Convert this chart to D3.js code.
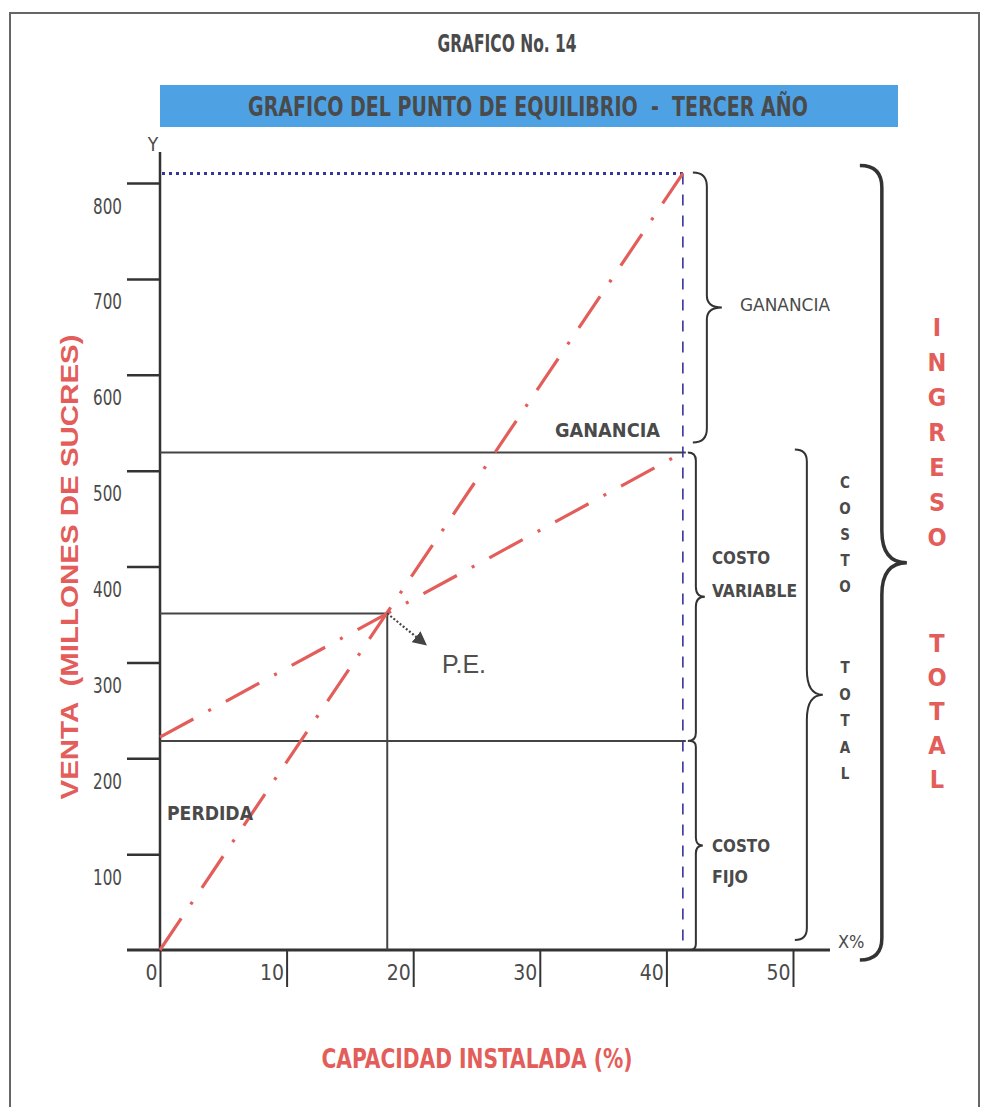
<!DOCTYPE html>
<html>
<head>
<meta charset="utf-8">
<script src="https://cdn.jsdelivr.net/npm/d3@7"></script>
<style>
  body { margin: 0; background: #fff; }
  svg { display: block; }
</style>
</head>
<body>
<div id="chart"></div>
<script>
// valores (punto de equilibrio - tercer año)
const capacidad = [0, 41.3];            // % capacidad instalada
const ingresoTotal = [0, 810];          // millones de sucres
const costoTotal = [222, 519];
const costoFijo = 218;
const puntoEquilibrio = [17.95, 351];
const yTicks = [100, 200, 300, 400, 500, 600, 700, 800];
const xTicks = [0, 10, 20, 30, 40, 50];

const NARROW = "'Liberation Sans Narrow', 'DejaVu Sans Condensed', 'Arial Narrow', sans-serif";
const WIDE = "'Liberation Sans', Arial, sans-serif";
const RED = "#e35d5a";
const GREY = "#4a4a4a";
const INK = "#333";

const width = 981, height = 1107;

const svg = d3.select("#chart").append("svg")
  .attr("width", width)
  .attr("height", height);

// marco
svg.append("rect")
  .attr("x", 10).attr("y", 13)
  .attr("width", 969).attr("height", 1110)
  .attr("fill", "none").attr("stroke", "#666").attr("stroke-width", 2);

const x = d3.scaleLinear().domain([0, 50]).range([160, 793]);
const y = d3.scaleLinear().domain([0, 800]).range([950, 183]);

// titulos
svg.append("text")
  .attr("x", 507).attr("y", 52)
  .attr("text-anchor", "middle")
  .attr("textLength", 139).attr("lengthAdjust", "spacingAndGlyphs")
  .style("font", `bold 24px ${NARROW}`)
  .attr("fill", GREY)
  .text("GRAFICO No. 14");

svg.append("rect")
  .attr("x", 160).attr("y", 85)
  .attr("width", 738).attr("height", 42)
  .attr("fill", "#4ea2e4");

svg.append("text")
  .attr("x", 528).attr("y", 116)
  .attr("text-anchor", "middle")
  .attr("textLength", 560).attr("lengthAdjust", "spacingAndGlyphs")
  .style("font", `bold 26px ${NARROW}`)
  .style("white-space", "pre")
  .attr("fill", GREY)
  .text("GRAFICO DEL PUNTO DE EQUILIBRIO  -  TERCER AÑO");

// ejes
const yAxis = svg.append("g")
  .attr("transform", `translate(${x(0)},0)`)
  .call(d3.axisLeft(y).tickValues(yTicks).tickSize(33).tickPadding(5));
yAxis.select(".domain").remove();
yAxis.selectAll("line").attr("stroke", INK).attr("stroke-width", 2.5);
yAxis.selectAll("text")
  .attr("dy", null).attr("y", 30)
  .attr("textLength", 29).attr("lengthAdjust", "spacingAndGlyphs")
  .style("font", `21px ${NARROW}`).attr("fill", GREY);

const xAxis = svg.append("g")
  .attr("transform", `translate(0,${y(0)})`)
  .call(d3.axisBottom(x).tickValues(xTicks).tickSize(37).tickPadding(0));
xAxis.select(".domain").remove();
xAxis.selectAll("line").attr("stroke", INK).attr("stroke-width", 2);
xAxis.selectAll("text")
  .attr("dy", null).attr("y", 30).attr("x", -3)
  .attr("text-anchor", "end")
  .style("font", `21px ${NARROW}`).attr("fill", GREY);

svg.append("line")
  .attr("x1", 127).attr("x2", 830)
  .attr("y1", y(0)).attr("y2", y(0))
  .attr("stroke", INK).attr("stroke-width", 3);
svg.append("line")
  .attr("x1", x(0)).attr("x2", x(0))
  .attr("y1", 152).attr("y2", y(0))
  .attr("stroke", INK).attr("stroke-width", 2.5);

svg.append("text").attr("x", 153).attr("y", 151)
  .attr("text-anchor", "middle")
  .style("font", `19px ${NARROW}`).attr("fill", GREY).text("Y");
svg.append("text").attr("x", 838).attr("y", 948)
  .style("font", `18px ${NARROW}`).attr("fill", GREY).text("X%");

// lineas horizontales y verticales de referencia
const xMax = capacidad[1];
const ref = svg.append("g").attr("stroke", "#444").attr("stroke-width", 2);
ref.append("line")
  .attr("x1", x(0)).attr("x2", x(xMax) + 3)
  .attr("y1", y(costoTotal[1])).attr("y2", y(costoTotal[1]));
ref.append("line")
  .attr("x1", x(0)).attr("x2", x(xMax) + 3)
  .attr("y1", y(costoFijo)).attr("y2", y(costoFijo));
ref.append("line")
  .attr("x1", x(0)).attr("x2", x(puntoEquilibrio[0]))
  .attr("y1", y(puntoEquilibrio[1])).attr("y2", y(puntoEquilibrio[1]));
ref.append("line")
  .attr("x1", x(puntoEquilibrio[0])).attr("x2", x(puntoEquilibrio[0]))
  .attr("y1", y(puntoEquilibrio[1])).attr("y2", y(0));

// lineas azules del ingreso maximo
svg.append("line")
  .attr("x1", x(0) + 2).attr("x2", x(xMax))
  .attr("y1", y(ingresoTotal[1])).attr("y2", y(ingresoTotal[1]))
  .attr("stroke", "#35359a").attr("stroke-width", 3)
  .attr("stroke-dasharray", "3,4");
svg.append("line")
  .attr("x1", x(xMax)).attr("x2", x(xMax))
  .attr("y1", y(ingresoTotal[1])).attr("y2", y(0))
  .attr("stroke", "#35359a").attr("stroke-width", 1.6)
  .attr("stroke-dasharray", "11,10");

// rectas de ingreso y costo total
const line = d3.line().x(d => x(d[0])).y(d => y(d[1]));
const ingresoPts = capacidad.map((c, i) => [c, ingresoTotal[i]]);
const costoPts = capacidad.map((c, i) => [c, costoTotal[i]]);

[ingresoPts, costoPts].forEach(pts => {
  svg.append("path")
    .attr("d", line(pts))
    .attr("fill", "none")
    .attr("stroke", RED).attr("stroke-width", 3.2)
    .attr("stroke-dasharray", "38,17,3,17");
});

// flecha del punto de equilibrio
svg.append("defs").append("marker")
  .attr("id", "head")
  .attr("viewBox", "0 0 10 10")
  .attr("refX", 2).attr("refY", 5)
  .attr("markerWidth", 14).attr("markerHeight", 14)
  .attr("markerUnits", "userSpaceOnUse")
  .attr("orient", "auto")
  .append("path").attr("d", "M0,0 L10,5 L0,10 Z").attr("fill", "#444");

const pex = x(puntoEquilibrio[0]), pey = y(puntoEquilibrio[1]);
svg.append("line")
  .attr("x1", pex).attr("y1", pey)
  .attr("x2", pex + 31).attr("y2", pey + 25)
  .attr("stroke", "#444").attr("stroke-width", 2.2)
  .attr("stroke-dasharray", "2,2")
  .attr("marker-end", "url(#head)");

svg.append("text").attr("x", 442).attr("y", 673)
  .style("font", `25px ${WIDE}`).attr("fill", "#505050")
  .text("P.E.");

// llaves
function brace(bx, y0, y1, depth, curl, tip) {
  const m = (y0 + y1) / 2;
  return `M${bx - curl},${y0} Q${bx},${y0} ${bx},${y0 + curl} ` +
    `L${bx},${m - tip} Q${bx},${m} ${bx + depth},${m} ` +
    `Q${bx},${m} ${bx},${m + tip} L${bx},${y1 - curl} ` +
    `Q${bx},${y1} ${bx - curl},${y1}`;
}

const braces = [
  { bx: x(xMax) + 24, y0: y(ingresoTotal[1]) - 1, y1: y(costoTotal[1]) - 10, depth: 15, curl: 14, tip: 12, w: 2 },
  { bx: x(xMax) + 13, y0: y(costoTotal[1]), y1: y(costoFijo), depth: 9, curl: 8, tip: 10, w: 2 },
  { bx: x(xMax) + 13, y0: y(costoFijo), y1: y(0), depth: 7, curl: 6, tip: 8, w: 2 },
  { bx: x(xMax) + 124, y0: y(costoTotal[1]) - 3, y1: y(0) - 10, depth: 16, curl: 12, tip: 25, w: 2 },
  { bx: x(xMax) + 199, y0: y(ingresoTotal[1]) - 8, y1: y(0) + 10, depth: 25, curl: 22, tip: 32, w: 3.5 }
];
svg.append("g").selectAll("path")
  .data(braces)
  .join("path")
  .attr("d", d => brace(d.bx, d.y0, d.y1, d.depth, d.curl, d.tip))
  .attr("fill", "none")
  .attr("stroke", INK)
  .attr("stroke-width", d => d.w);

// rotulos
function label(tx, ty, txt, size, len, weight) {
  const t = svg.append("text").attr("x", tx).attr("y", ty)
    .style("font", `${weight || "bold"} ${size}px ${NARROW}`)
    .attr("fill", GREY).text(txt);
  if (len) t.attr("textLength", len).attr("lengthAdjust", "spacingAndGlyphs");
  return t;
}
label(740, 311, "GANANCIA", 17, 90, "normal");
label(555, 437, "GANANCIA", 20, 105);
label(712, 564, "COSTO", 17, 58);
label(712, 597, "VARIABLE", 17, 85);
label(712, 852, "COSTO", 17, 58);
label(712, 883, "FIJO", 17, 36);
label(167, 820, "PERDIDA", 20, 86);

// letras verticales
const costoLetras = "COSTO".split("").map((c, i) => ({ c, cy: 482 + i * 26 }))
  .concat("TOTAL".split("").map((c, i) => ({ c, cy: 667 + i * 26.5 })));
svg.append("g").selectAll("text")
  .data(costoLetras)
  .join("text")
  .attr("x", 845).attr("y", d => d.cy + 6)
  .attr("text-anchor", "middle")
  .style("font", `bold 15px ${NARROW}`)
  .attr("fill", GREY)
  .text(d => d.c);

const ingresoLetras = "INGRESO".split("").map((c, i) => ({ c, cy: 327 + i * 35 }))
  .concat("TOTAL".split("").map((c, i) => ({ c, cy: 643 + i * 34 })));
svg.append("g").selectAll("text")
  .data(ingresoLetras)
  .join("text")
  .attr("x", 937).attr("y", d => d.cy + 9)
  .attr("text-anchor", "middle")
  .style("font", `bold 25px ${NARROW}`)
  .attr("fill", RED)
  .text(d => d.c);

// titulos de ejes
svg.append("text")
  .attr("transform", "translate(78,567) rotate(-90)")
  .attr("text-anchor", "middle")
  .attr("textLength", 465).attr("lengthAdjust", "spacingAndGlyphs")
  .style("font", `bold 23px ${WIDE}`)
  .style("white-space", "pre")
  .attr("fill", RED)
  .text("VENTA  (MILLONES DE SUCRES)");

svg.append("text")
  .attr("x", 477).attr("y", 1068)
  .attr("text-anchor", "middle")
  .attr("textLength", 311).attr("lengthAdjust", "spacingAndGlyphs")
  .style("font", `bold 27px ${NARROW}`)
  .attr("fill", RED)
  .text("CAPACIDAD INSTALADA (%)");
</script>
</body>
</html>
